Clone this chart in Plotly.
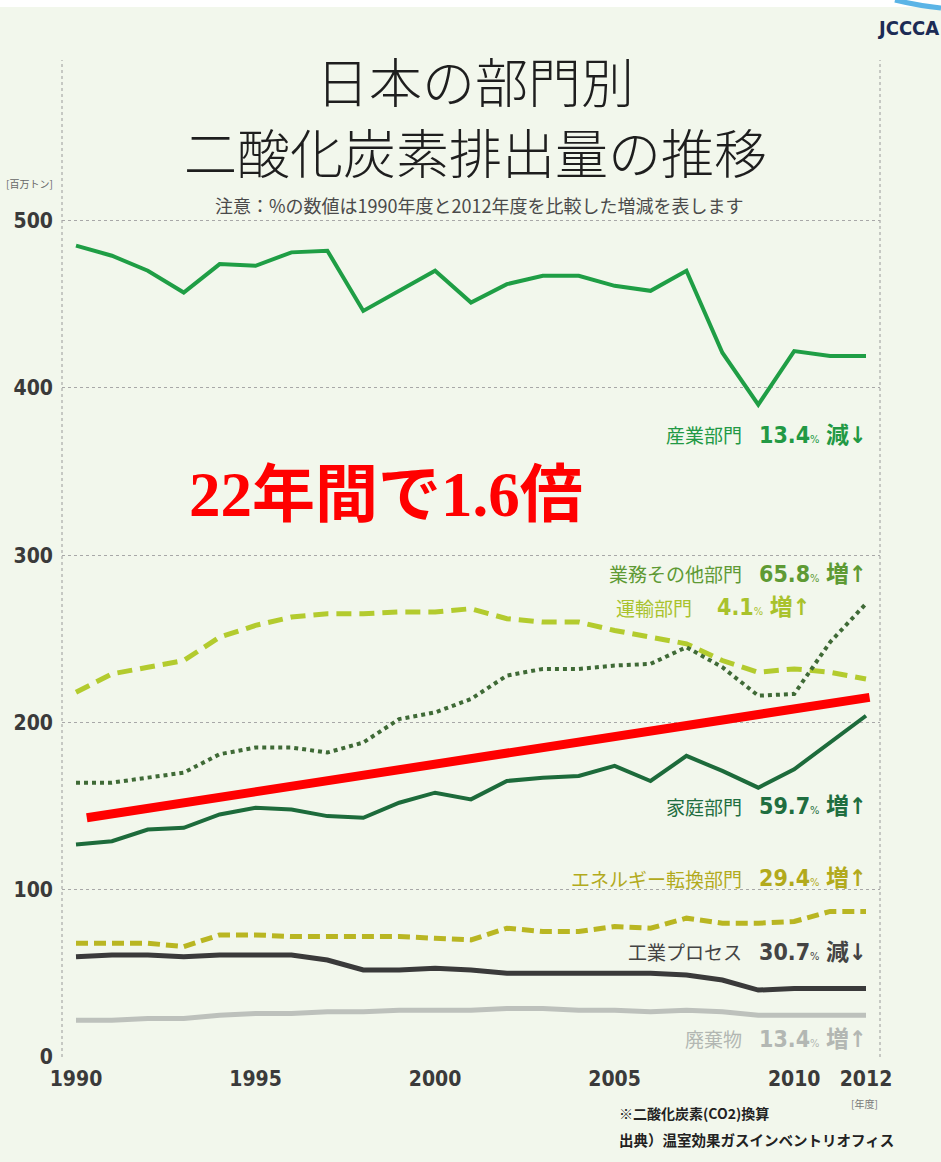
import plotly.graph_objects as go

years = list(range(1990, 2013))

# 百万トン
industry = [485, 479, 470, 457, 474, 473, 481, 482, 446, 458, 470, 451,
            462, 467, 467, 461, 458, 470, 421, 390, 422, 419, 419]
commercial = [164, 164, 167, 170, 181, 185, 185, 182, 188, 202, 206, 214,
              228, 232, 232, 234, 235, 245, 233, 216, 217, 248, 271]
transport = [218, 229, 233, 237, 251, 258, 263, 265, 265, 266, 266, 268,
             262, 260, 260, 255, 251, 247, 237, 230, 232, 230, 226]
household = [127, 129, 136, 137, 145, 149, 148, 144, 143, 152, 158, 154,
             165, 167, 168, 174, 165, 180, 171, 161, 172, 188, 204]
energy = [68, 68, 68, 66, 73, 73, 72, 72, 72, 72, 71, 70,
          77, 75, 75, 78, 77, 83, 80, 80, 81, 87, 87]
process = [60, 61, 61, 60, 61, 61, 61, 58, 52, 52, 53, 52,
           50, 50, 50, 50, 50, 49, 46, 40, 41, 41, 41]
waste = [22, 22, 23, 23, 25, 26, 26, 27, 27, 28, 28, 28,
         29, 29, 28, 28, 27, 28, 27, 25, 25, 25, 25]

trend_x = [1990.3, 2012.1]
trend_y = [143, 215]

tick_years = [1990, 1995, 2000, 2005, 2010, 2012]
tick_values = [0, 100, 200, 300, 400, 500]

# sector, percent, direction, label y, colour
sector_labels = [
    ("産業部門", "13.4", "減↓", 372, "#229944"),
    ("業務その他部門", "65.8", "増↑", 289, "#5e9a34"),
    ("運輸部門", "4.1", "増↑", 269, "#a9c22c"),
    ("家庭部門", "59.7", "増↑", 150, "#1f6e40"),
    ("エネルギー転換部門", "29.4", "増↑", 107, "#b2aa1c"),
    ("工業プロセス", "30.7", "減↓", 63, "#444444"),
    ("廃棄物", "13.4", "増↑", 11, "#b3b7b3"),
]

W, H = 941, 1162
L, R, T, B = 62, 880, 60, 1057


def px(x, y):
    return (x - L) / (R - L), (B - y) / (B - T)


BG = "#f2f7ec"
NUM_FONT = "Liberation Sans Narrow, DejaVu Sans Condensed, Arial Narrow, sans-serif"
JP = "Noto Sans CJK JP"

fig = go.Figure()


def add_line(y, color, width, dash="solid"):
    fig.add_trace(go.Scatter(x=years, y=y, mode="lines",
                             line=dict(color=color, width=width, dash=dash),
                             hoverinfo="skip"))


add_line(waste, "#bdc1bc", 5)
add_line(process, "#3a3a3a", 5)
add_line(energy, "#b9b622", 5, "12px,6px")
add_line(household, "#1d6b3b", 4)
add_line(transport, "#b3cb2e", 5, "15px,8px")
add_line(commercial, "#3f6a36", 4, "dot")
add_line(industry, "#1f9e45", 4)

fig.add_trace(go.Scatter(x=trend_x, y=trend_y, mode="lines",
                         line=dict(color="#ff0000", width=9), hoverinfo="skip"))

ann = []
for name, pct, arrow, ly, col in sector_labels:
    if name == "運輸部門":
        name_x, val_x = 2007.2, 2010.5
    else:
        name_x, val_x = 2008.6, 2012.05
    ann.append(dict(x=name_x, y=ly, xref="x", yref="y", text=name,
                    xanchor="right", yanchor="middle", showarrow=False,
                    font=dict(family=JP, size=19, color=col)))
    ann.append(dict(x=val_x, y=ly, xref="x", yref="y",
                    text=f"<b>{pct}</b><span style='font-size:11px'>%</span> <b>{arrow}</b>",
                    xanchor="right", yanchor="middle", showarrow=False,
                    font=dict(family=NUM_FONT + ", " + JP, size=23, color=col)))

for line_text, ty in (("日本の部門別", 80), ("二酸化炭素排出量の推移", 151)):
    x0, y0 = px(475, ty)
    ann.append(dict(x=x0, y=y0, xref="paper", yref="paper", text=line_text,
                    showarrow=False, xanchor="center", yanchor="middle",
                    font=dict(family=JP, size=53, color="#1e1e1e", weight=300)))
x0, y0 = px(479, 205)
ann.append(dict(x=x0, y=y0, xref="paper", yref="paper",
                text="注意：%の数値は1990年度と2012年度を比較した増減を表します",
                showarrow=False, xanchor="center", yanchor="middle",
                font=dict(family=JP, size=18, color="#4a4a4a")))
x0, y0 = px(4, 183)
ann.append(dict(x=x0, y=y0, xref="paper", yref="paper", text="[百万トン]",
                showarrow=False, xanchor="left", yanchor="middle",
                font=dict(family=JP, size=10, color="#666666")))
x0, y0 = px(386, 495)
ann.append(dict(x=x0, y=y0, xref="paper", yref="paper", text="<b>22年間で1.6倍</b>",
                showarrow=False, xanchor="center", yanchor="middle",
                font=dict(family="Liberation Serif, DejaVu Serif, " + JP, size=63, color="#ff0000")))
x0, y0 = px(880, 1103)
ann.append(dict(x=x0, y=y0, xref="paper", yref="paper", text="[年度]",
                showarrow=False, xanchor="right", yanchor="middle",
                font=dict(family=JP, size=10, color="#777777")))
x0, y0 = px(617, 1113)
ann.append(dict(x=x0, y=y0, xref="paper", yref="paper", text="<b>※二酸化炭素(CO2)換算</b>",
                showarrow=False, xanchor="left", yanchor="middle",
                font=dict(family=JP, size=14, color="#222222")))
x0, y0 = px(617, 1139)
ann.append(dict(x=x0, y=y0, xref="paper", yref="paper", text="<b>出典）温室効果ガスインベントリオフィス</b>",
                showarrow=False, xanchor="left", yanchor="middle",
                font=dict(family=JP, size=14.5, color="#222222")))
x0, y0 = px(908, 28)
ann.append(dict(x=x0, y=y0, xref="paper", yref="paper", text="<b>JCCCA</b>",
                showarrow=False, xanchor="center", yanchor="middle",
                font=dict(family=NUM_FONT, size=20, color="#1c2b55")))

shapes = []
# white strip on top and light blue arc in the corner
xa, ya = px(0, 0)
xb, yb = px(W, 7)
shapes.append(dict(type="rect", xref="paper", yref="paper", x0=xa, x1=xb, y0=yb, y1=ya + 0.01,
                   fillcolor="white", line=dict(width=0), layer="below"))
xa, ya = px(895, 0)
xb, yb = px(W, 8)
xc, yc = px(920, 6)
shapes.append(dict(type="path", xref="paper", yref="paper",
                    path=f"M {xa},{ya} Q {xc},{yc} {xb},{yb}",
                    line=dict(color="#5ab4e6", width=5)))
# dashed frame sides
for side in (0, 1):
    shapes.append(dict(type="line", xref="paper", yref="paper", x0=side, x1=side, y0=0, y1=1,
                       line=dict(color="#9a9a9a", width=1, dash="dot"), layer="below"))

fig.update_layout(
    width=W, height=H,
    margin=dict(l=L, r=W - R, t=T, b=H - B),
    paper_bgcolor=BG, plot_bgcolor=BG,
    showlegend=False,
    xaxis=dict(range=[1989.61, 2012.39], tickvals=tick_years, showgrid=False,
               zeroline=False, showline=False, ticks="", automargin=False,
               ticklabelstandoff=7,
               tickfont=dict(family=NUM_FONT, size=21, color="#3a3a3a", weight="bold")),
    yaxis=dict(range=[0, 596], tickvals=tick_values, showgrid=True, gridcolor="#a8a8a8",
               griddash="dot", gridwidth=1, zeroline=False, showline=False, ticks="",
               automargin=False, ticklabelstandoff=8,
               tickfont=dict(family=NUM_FONT, size=21, color="#3a3a3a", weight="bold")),
    annotations=ann,
    shapes=shapes,
)

# page body has an 8px margin by default; drop it so the figure fills the window
fig.write_html("out.html", config={"displayModeBar": False},
               post_script="document.body.style.margin='0';")
